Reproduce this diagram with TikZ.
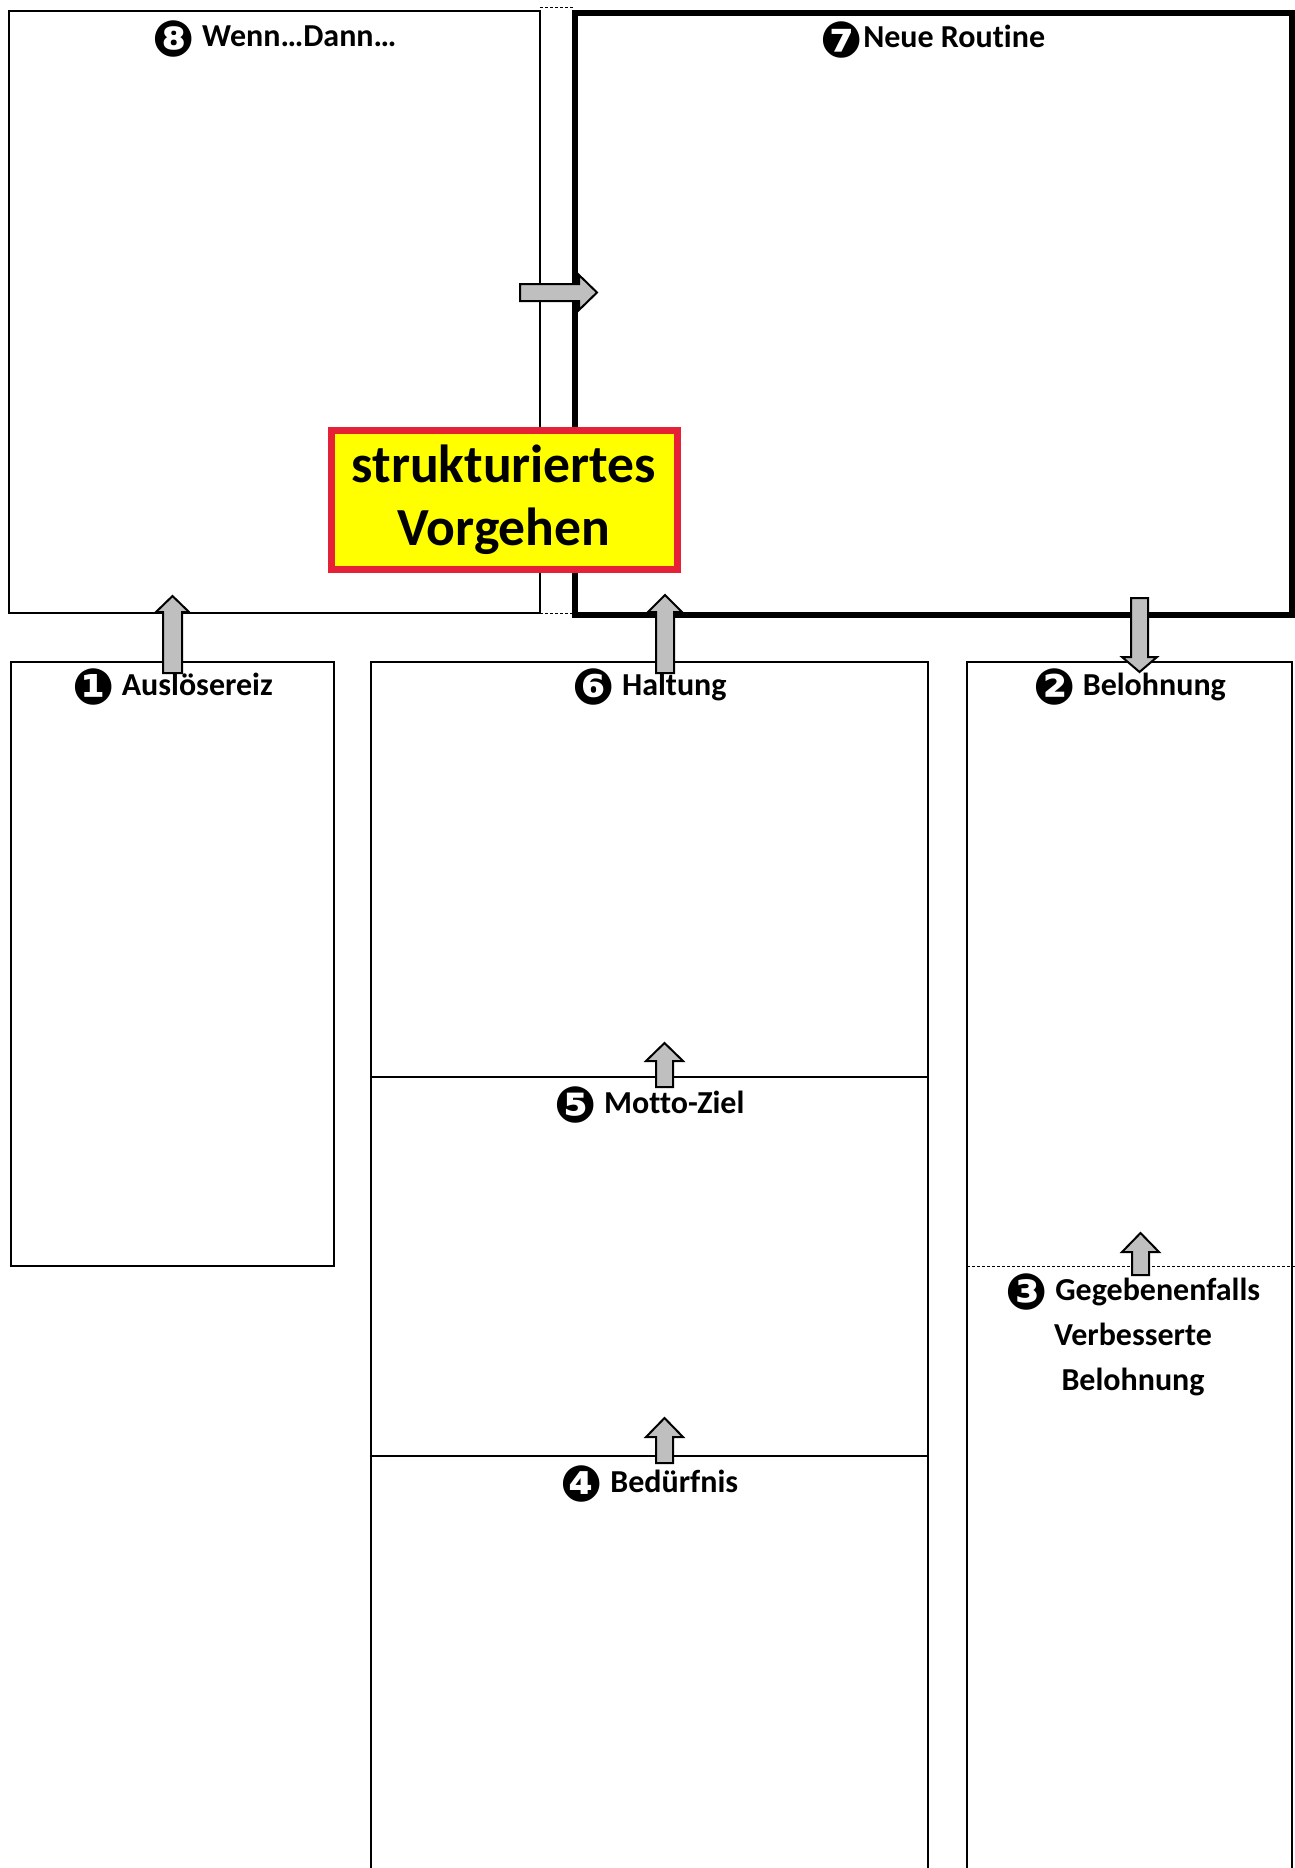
\documentclass[tikz,border=0pt]{standalone}
\usepackage{fontspec}
\setmainfont{Carlito}[Ligatures=NoCommon]
\newfontfamily\dingfont{DejaVu Sans}
\newlength{\du}
\setlength{\du}{0.5pt}
\newcommand{\numcirc}[1]{{\dingfont\fontsize{25}{25}\selectfont\raisebox{-4.8pt}{#1}}}
\tikzset{
  thinbox/.style={draw=black, line width=2.6\du},
  thickbox/.style={draw=black, line width=5.2\du},
  gapline/.style={draw=black, line width=1\du, dash pattern=on 3\du off 2\du},
  blockarrow/.style={draw=black, fill=arrowgray, line width=2\du, line join=miter},
  caption/.style={font=\bfseries\fontsize{16}{22.5}\selectfont, anchor=base, inner sep=0pt, align=center},
}

\begin{document}
\begin{tikzpicture}
\pgftransformxscale{1.000000}
\pgftransformyscale{-1.000000}
\definecolor{arrowgray}{rgb}{0.750000, 0.750000, 0.750000}
\definecolor{signalred}{rgb}{0.900000, 0.130000, 0.220000}
\definecolor{signalyellow}{rgb}{1.000000, 1.000000, 0.000000}
\useasboundingbox (0\du,0\du) rectangle (1295\du,1868\du);
% upper row
\draw[thinbox] (9\du,11\du) rectangle (540\du,613\du);
\draw[thickbox] (575\du,13\du) rectangle (1292\du,615\du);
\draw[gapline] (540\du,8\du)--(575\du,8\du);
\draw[gapline] (540\du,613\du)--(575\du,613\du);
% lower row
\draw[thinbox] (11\du,662\du) rectangle (334\du,1266\du);
\draw[thinbox] (371\du,1872\du)--(371\du,662\du)--(928\du,662\du)--(928\du,1872\du);
\draw[thinbox] (371\du,1077\du)--(928\du,1077\du);
\draw[thinbox] (371\du,1456\du)--(928\du,1456\du);
\draw[thinbox] (967\du,1872\du)--(967\du,662\du)--(1292\du,662\du)--(1292\du,1872\du);
\draw[gapline] (967\du,1266\du)--(1295\du,1266\du);
% labels
\node[caption] (wenn) at (274.5\du,47\du){\numcirc{❽} Wenn…Dann…};
\node[caption] (routine) at (933\du,48\du){\numcirc{❼}Neue Routine};
\node[caption] (ausloeser) at (172.5\du,695\du){\numcirc{❶} Auslösereiz};
\node[caption] (haltung) at (649.5\du,695\du){\numcirc{❻} Haltung};
\node[caption] (belohnung) at (1129.5\du,695\du){\numcirc{❷} Belohnung};
\node[caption] (motto) at (649.5\du,1113\du){\numcirc{❺} Motto-Ziel};
\node[caption] (beduerfnis) at (649.5\du,1492\du){\numcirc{❹} Bedürfnis};
\node[caption] (verbessert) at (1133\du,1390\du){\numcirc{❸} Gegebenenfalls\\Verbesserte\\Belohnung};
% block arrows
\draw[blockarrow] (520\du,284\du)--(579\du,284\du)--(579\du,275\du)--(597\du,292.5\du)--(579\du,310\du)--(579\du,301\du)--(520\du,301\du)--cycle;
\draw[blockarrow] (163\du,673\du)--(163\du,612\du)--(156\du,612\du)--(172.5\du,596\du)--(189\du,612\du)--(182\du,612\du)--(182\du,673\du)--cycle;
\draw[blockarrow] (656\du,673\du)--(656\du,612\du)--(648\du,612\du)--(665\du,595\du)--(682\du,612\du)--(674\du,612\du)--(674\du,673\du)--cycle;
\draw[blockarrow] (1131\du,598\du)--(1131\du,657\du)--(1122\du,657\du)--(1139.5\du,672\du)--(1157\du,657\du)--(1148\du,657\du)--(1148\du,598\du)--cycle;
\draw[blockarrow] (656\du,1087\du)--(656\du,1061\du)--(646\du,1061\du)--(664.5\du,1043\du)--(683\du,1061\du)--(673\du,1061\du)--(673\du,1087\du)--cycle;
\draw[blockarrow] (656\du,1463\du)--(656\du,1437\du)--(646\du,1437\du)--(664.5\du,1418\du)--(683\du,1437\du)--(673\du,1437\du)--(673\du,1463\du)--cycle;
\draw[blockarrow] (1132\du,1275\du)--(1132\du,1252\du)--(1122\du,1252\du)--(1140.5\du,1233\du)--(1159\du,1252\du)--(1149\du,1252\du)--(1149\du,1275\du)--cycle;
% setfont left to latex
\node[draw=signalred, fill=signalyellow, line width=7\du, minimum width=346\du, minimum height=139\du, inner sep=0pt, align=center, font=\bfseries\fontsize{26.8}{31.5}\selectfont] (vorgehen) at (504\du,499.5\du){strukturiertes\\Vorgehen};
\end{tikzpicture}
\end{document}
